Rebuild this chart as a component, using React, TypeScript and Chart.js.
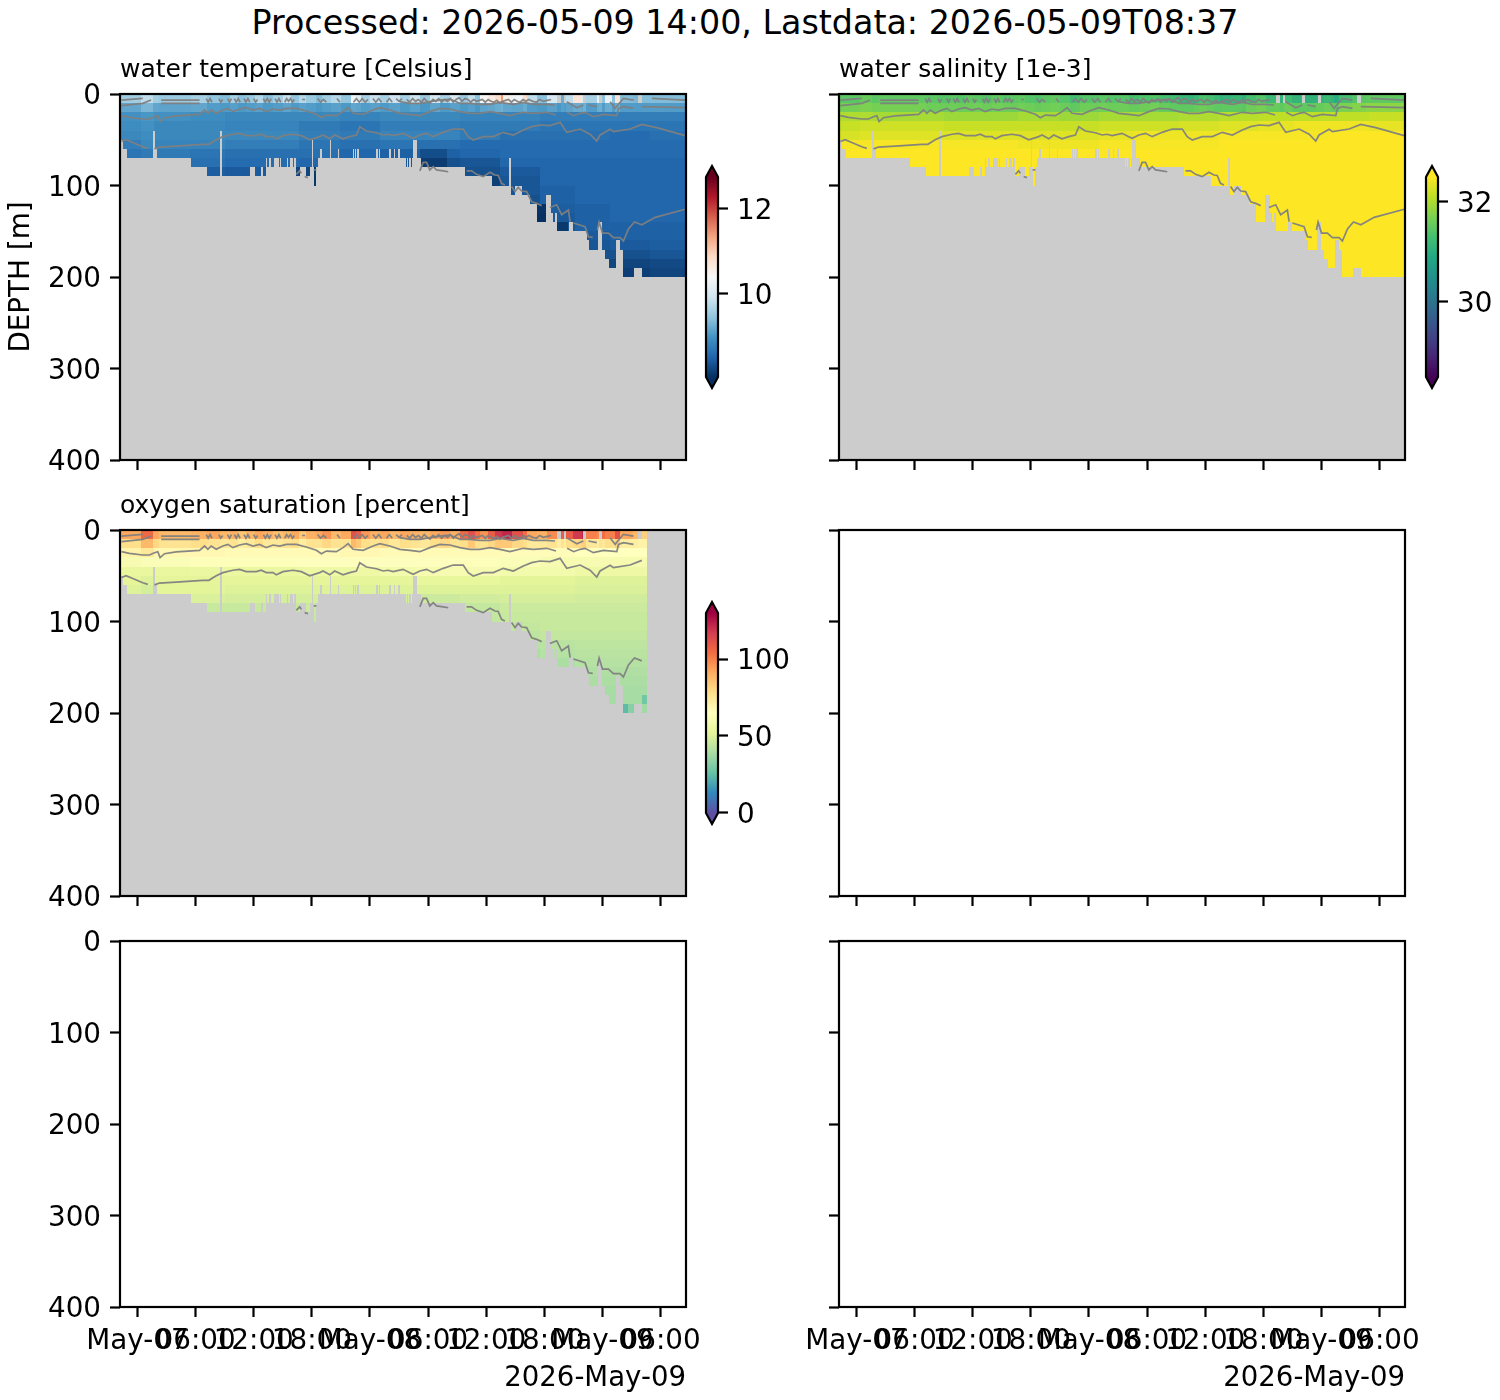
import { useEffect, useRef } from "react";
import { Chart, registerables } from "chart.js";

Chart.register(...registerables);
Chart.defaults.font.family = "DejaVu Sans";
Chart.defaults.color = "#000";

const SUPTITLE = "Processed: 2026-05-09 14:00, Lastdata: 2026-05-09T08:37";
const xTicks = [0, 6, 12, 18, 24, 30, 36, 42, 48, 54];
const xTickLabels = ["May-07", "06:00", "12:00", "18:00", "May-08", "06:00", "12:00", "18:00", "May-09", "06:00"];
const yTicks = [0, 100, 200, 300, 400];
const rowDepth = 10;

// seabed: hours since May-07 00:00 (left edges, one extra at the end) and depth reached
const bottomHours = [
  -1.65, -1.45, -1.03, 1.58, 1.86, 2.03, 5.48, 7.13, 8.48, 8.75, 11.58, 12.09, 12.78, 12.95, 13.23, 13.37, 13.57, 13.78,
  14.06, 14.57, 14.75, 14.81, 15.43, 15.5, 15.78, 16.05, 16.12, 16.4, 16.74, 17.36, 17.78, 17.98, 18.12, 18.19, 18.4,
  18.6, 18.81, 19.02, 19.91, 20.02, 20.26, 20.33, 20.47, 20.53, 20.67, 20.81, 22.02, 22.15, 22.29, 22.36, 22.5, 22.57,
  22.7, 22.84, 23.05, 23.12, 24.67, 24.81, 24.94, 25.01, 25.98, 26.18, 26.46, 26.63, 26.94, 27.08, 27.7, 27.8, 27.94,
  28.04, 28.22, 28.32, 28.42, 28.84, 29.25, 33.8, 36.59, 38.35, 38.55, 38.97, 39.69, 40.52, 41.24, 42.17, 42.69, 42.89,
  43.1, 43.31, 44.55, 45.0, 46.41, 46.62, 47.44, 47.96, 48.27, 48.68, 49.4, 49.82, 50.13, 51.27, 52.09, 56.62,
];
const bottomDepths = [
  50, 60, 70, 40, 60, 70, 80, 90, 40, 90, 80, 90, 80, 90, 70, 80, 70, 80,
  70, 80, 70, 80, 70, 80, 70, 80, 70, 90, 80, 90, 80, 50, 80, 100, 80,
  70, 60, 70, 50, 70, 60, 70, 60, 70, 60, 70, 60, 70, 60, 70, 60, 70,
  60, 70, 60, 70, 60, 70, 60, 70, 60, 70, 60, 70, 60, 70, 80, 70, 80,
  70, 80, 70, 50, 70, 80, 90, 100, 70, 110, 100, 110, 120, 140, 110, 130,
  140, 130, 150, 140, 150, 160, 170, 140, 170, 180, 190, 160, 170, 200, 190, 200,
];

// thin columns of the 0-10 m and 10-20 m rows
const stripeHours = [
  -1.65, 0.41, 1.58, 2.27, 5.48, 7.13, 8.48, 9.6, 10.4, 11.2, 12.1, 13, 14, 15, 15.8, 16.7, 17.4, 18.4, 19, 20, 21, 22,
  22.6, 23.05, 24, 25, 26, 27.08, 28.11, 29.15, 30.2, 31.2, 32.25, 33.3, 34.15, 34.85, 35.35, 36.2, 36.9, 37.5, 37.76,
  38.62, 39.83, 40.17, 41.2, 42.24, 43.27, 43.76, 44.06, 44.24, 45, 45.86, 46.02, 46.27, 47.41, 47.68, 47.92, 48.27,
  48.96, 49.3, 49.82, 51.2, 51.68, 52.06, 52.61, 56.62,
];
const stripeTemp = [
  9.55, 9.8, 9.55, 9.5, 9.6, 9.45, 9.35, 9.6, 9.4, 9.5, 9.7, 9.4, 9.6, 9.85, 9.45, 9.7, 9.5, 9.35, 9.55, 9.7, 9.45, 10.3,
  10.1, 9.6, 9.85, 9.6, 9.9, 9.6, 9.9, 9.5, 10.0, 9.6, 10.0, 9.5, 9.8, 9.4, 10.4, 10.6, 10.8, 11.4,
  10.5, 10.3, 10.8, 9.8, 9.4, 10.0, null, 9.2, null, 9.8, 10.7, 10.1, null, 9.6, 10.2, null, 9.4, 10.2,
  9.4, 10.7, 9.35, 9.3, null, 9.35, 9.35,
];
const stripeSal = [
  31.45, 31.55, 31.45, 31.5, 31.5, 31.45, 31.4, 31.45, 31.4, 31.5, 31.45, 31.4, 31.5, 31.4, 31.45, 31.5, 31.4, 31.35, 31.45, 31.5, 31.4, 31.25,
  31.3, 31.4, 31.4, 31.45, 31.4, 31.4, 31.3, 31.35, 31.4, 31.3, 31.25, 31.15, 31.1, 31.2, 31.35, 31.3, 31.2, 31.05,
  31.1, 31.15, 31.05, 31.3, 31.4, 31.2, null, 31.1, null, 31.25, 31.1, 31.15, null, 31.05, 31.1, null, 31.1, 31.2,
  31.1, 31.0, 31.3, 31.4, null, 31.45, 31.5,
];
const stripeOxy = [
  92, 105, 92, 88, 90, 92, 88, 90, 85, 88, 92, 90, 86, 88, 92, 84, 90, 92, 96, 88, 92, 112,
  108, 95, 90, 92, 88, 92, 90, 88, 92, 95, 90, 105, 112, 104, 96, 108, 118, 120,
  122, 112, 104, 92, 90, 98, null, 108, null, 108, 118, 122, null, 100, 98, null, 104, 100,
  100, 112, 92, 88, null, 82, null,
];
const secondTemp = [
  9.15, 9.3, 9.15, 9.12, 9.15, 9.05, 9.03, 9.08, 9.02, 9.05, 9.1, 9.02, 9.06, 9.12, 9.03, 9.1, 9.05, 9.0, 9.05, 9.1, 9.02, 9.15,
  9.12, 9.05, 9.1, 9.03, 9.1, 9.02, 9.1, 9.0, 9.12, 9.03, 9.1, 9.02, 9.08, 9.0, 9.12, 9.15, 9.2, 9.25,
  9.15, 9.12, 9.2, 9.05, 9.02, 9.1, 9.0, 9.1, 9.05, 9.12, 9.2, 9.15, 9.25, 9.05, 9.2, 9.22, 9.05, 9.2,
  9.05, 9.2, 9.05, 9.05, 9.05, 9.05, 9.05,
];
const secondSal = [
  31.65, 31.7, 31.65, 31.65, 31.65, 31.6, 31.58, 31.6, 31.58, 31.6, 31.62, 31.58, 31.62, 31.6, 31.58, 31.62, 31.6, 31.55, 31.6, 31.62, 31.58, 31.5,
  31.52, 31.6, 31.6, 31.62, 31.58, 31.6, 31.55, 31.6, 31.62, 31.55, 31.5, 31.5, 31.48, 31.55, 31.6, 31.55, 31.5, 31.45,
  31.48, 31.5, 31.45, 31.6, 31.65, 31.55, 31.55, 31.5, 31.55, 31.6, 31.5, 31.5, 31.5, 31.5, 31.55, 31.55, 31.55, 31.6,
  31.55, 31.5, 31.7, 31.75, 31.75, 31.75, 31.8,
];
const secondOxy = [
  78, 88, 80, 76, 78, 76, 74, 76, 72, 74, 78, 74, 74, 76, 78, 72, 76, 76, 80, 76, 76, 88,
  84, 78, 76, 78, 74, 78, 76, 74, 78, 80, 76, 78, 84, 78, 76, 80, 84, 84,
  84, 80, 78, 74, 74, 76, 72, 76, 72, 78, 80, 82, 82, 74, 72, 76, 74, 78,
  76, 82, 72, 72, 70, 70, 70,
];

// coarse readings below that, one list per 10 m row from 20-30 m downwards
const blockHours = [-1.65, 0.4, 1.75, 5.4, 9, 16.7, 20.9, 25, 28.6, 33.3, 37.4, 41.5, 45.2, 48.8, 52.9, 56.62];
const tempRows = [
  [8.95, 9.0, 8.95, 8.9, 8.85, 8.85, 8.8, 8.85, 8.85, 8.8, 8.8, 8.75, 8.75, 8.75, 8.75],
  [8.9, 8.95, 8.85, 8.85, 8.8, 8.7, 8.65, 8.75, 8.75, 8.7, 8.7, 8.65, 8.65, 8.65, 8.65],
  [8.85, 8.9, 8.85, 8.85, 8.85, 8.75, 8.7, 8.8, 8.8, 8.7, 8.6, 8.6, 8.6, 8.55, 8.6],
  [8.75, 8.85, 8.8, 8.8, 8.75, 8.65, 8.6, 8.65, 8.6, 8.55, 8.55, 8.55, 8.55, 8.55, 8.55],
  [8.65, 8.7, 8.7, 8.65, 8.6, 8.6, 8.5, 8.45, 8.45, 8.5, 8.55, 8.55, 8.55, 8.55, 8.55],
  [8.6, 8.6, 8.6, 8.6, 8.55, 8.5, 8.4, 8.35, 8.3, 8.35, 8.5, 8.5, 8.5, 8.5, 8.5],
  [8.5, 8.5, 8.5, 8.42, 8.4, 8.4, 8.4, 8.3, 8.2, 8.3, 8.4, 8.5, 8.5, 8.5, 8.5],
  [8.4, 8.4, 8.4, 8.3, 8.1, 8.3, 8.3, 8.3, 8.3, 8.15, 8.35, 8.5, 8.5, 8.5, 8.5],
  [8.4, 8.4, 8.4, 8.3, 8.1, 8.3, 8.3, 8.3, 8.3, 8.2, 8.35, 8.45, 8.5, 8.5, 8.5],
  [8.4, 8.4, 8.4, 8.3, 8.1, 8.3, 8.3, 8.3, 8.3, 8.2, 8.3, 8.45, 8.5, 8.5, 8.5],
  [8.4, 8.4, 8.4, 8.3, 8.1, 8.3, 8.3, 8.3, 8.3, 8.2, 8.3, 8.42, 8.45, 8.5, 8.5],
  [8.4, 8.4, 8.4, 8.3, 8.1, 8.3, 8.3, 8.3, 8.3, 8.2, 8.3, 8.38, 8.45, 8.5, 8.5],
  [8.4, 8.4, 8.4, 8.3, 8.1, 8.3, 8.3, 8.3, 8.3, 8.2, 8.1, 8.35, 8.45, 8.45, 8.45],
  [8.4, 8.4, 8.4, 8.3, 8.1, 8.3, 8.3, 8.3, 8.3, 8.2, 8.1, 8.35, 8.4, 8.45, 8.45],
  [8.4, 8.4, 8.4, 8.3, 8.1, 8.3, 8.3, 8.3, 8.3, 8.2, 8.1, 8.1, 8.35, 8.4, 8.42],
  [8.4, 8.4, 8.4, 8.3, 8.1, 8.3, 8.3, 8.3, 8.3, 8.2, 8.1, 8.1, 8.3, 8.3, 8.35],
  [8.4, 8.4, 8.4, 8.3, 8.1, 8.3, 8.3, 8.3, 8.3, 8.2, 8.1, 8.1, 8.2, 8.2, 8.25],
  [8.4, 8.4, 8.4, 8.3, 8.1, 8.3, 8.3, 8.3, 8.3, 8.2, 8.1, 8.1, 8.2, 8.15, 8.2],
];
const tempPatchRows = [6, 7, 12, 13, 14, 8, 8, 8, 9];
const tempPatchStart = [29.15, 29.25, 41.24, 41.24, 43.31, 16.4, 17.36, 18.19, 18.19];
const tempPatchEnd = [32, 32, 42.17, 42.17, 44.4, 16.74, 17.78, 18.4, 18.4];
const tempPatchValues = [8.28, 8.12, 8.05, 8.02, 8.1, 8.2, 8.2, 8.1, 8.08];

const salRows = [
  [32.0, 32.0, 31.95, 31.95, 31.9, 31.95, 31.9, 31.95, 31.95, 32.0, 32.05, 32.1, 32.1, 32.1, 32.15],
  [32.15, 32.2, 32.2, 32.2, 32.15, 32.15, 32.15, 32.2, 32.2, 32.25, 32.3, 32.35, 32.4, 32.4, 32.35],
  [32.25, 32.3, 32.3, 32.3, 32.3, 32.3, 32.3, 32.35, 32.4, 32.4, 32.45, 32.45, 32.45, 32.5, 32.5],
  [32.45, 32.45, 32.45, 32.45, 32.45, 32.4, 32.4, 32.45, 32.45, 32.45, 32.5, 32.5, 32.5, 32.5, 32.5],
];
const salDeep = 32.5;
const oxyRows = [
  [70, 74, 68, 68, 67, 67, 68, 67, 67, 67, 66, 66, 65, 65, 65],
  [60, 62, 62, 63, 63, 64, 64, 64, 64, 63, 62, 60, 60, 60, 60],
  [54, 54, 54, 55, 55, 56, 56, 58, 60, 60, 58, 58, 56, 56, 56],
  [52, 50, 52, 52, 52, 52, 52, 52, 53, 53, 51, 51, 50, 50, 50],
  [50, 48, 51, 51, 50, 50, 50, 50, 50, 50, 50, 50, 49, 49, 49],
  [48, 48, 49, 49, 48, 48, 48, 48, 46, 47, 48, 48, 47, 47, 47],
  [46, 46, 46, 45, 45, 46, 46, 45, 44, 44, 46, 46, 46, 46, 46],
  [45, 45, 45, 44, 43, 45, 45, 44, 44, 44, 45, 45, 45, 45, 45],
  [45, 45, 45, 44, 43, 45, 45, 44, 44, 44, 44, 45, 45, 45, 45],
  [45, 45, 45, 44, 43, 45, 45, 44, 44, 44, 43, 44, 44, 44, 44],
  [45, 45, 45, 44, 43, 45, 45, 44, 44, 44, 41, 42, 43, 43, 43],
  [45, 45, 45, 44, 43, 45, 45, 44, 44, 44, 39, 41, 42, 42, 42],
  [45, 45, 45, 44, 43, 45, 45, 44, 44, 44, 39, 39, 41, 41, 41],
  [45, 45, 45, 44, 43, 45, 45, 44, 44, 44, 39, 39, 40, 40, 40],
  [45, 45, 45, 44, 43, 45, 45, 44, 44, 44, 39, 39, 39, 39, 39],
  [45, 45, 45, 44, 43, 45, 45, 44, 44, 44, 39, 39, 38, 38, 38],
  [45, 45, 45, 44, 43, 45, 45, 44, 44, 44, 39, 39, 38, 38, 38],
  [45, 45, 45, 44, 43, 45, 45, 44, 44, 44, 39, 39, 38, 38, 37],
];
const oxyEndHour = 52.61;
const oxyPatchRows = [19, 19, 19, 18];
const oxyPatchStart = [50.13, 50.65, 52.09, 52.09];
const oxyPatchEnd = [50.65, 51.27, 52.61, 52.61];
const oxyPatchValues = [24, 32, 37, 28];

// grey contour lines, null breaks a line
const contourAHours = [
  -1.65, -1.17, -0.48, 0.55, 1.07, 1.4, 1.76, 2.27, 4, 6.75, 7.37, 8.13, 8.82, 9.85, 10.54, 11.23, 12.27, 12.78, 13.3, 14,
  14.33, 15.02, 16.05, 16.92, 17.78, 18.81, 19.16, 19.85, 20.36, 21.22, 21.91, 22.6, 22.95, 23.63, 24.67, 25.36, 25.87,
  26.39, 27.42, 28.11, 28.46, 29.15, 29.84, 30.53, 31.56, 32.6, 33.63, 34.14, 34.66, 35.69, 36.73, 37.76, 38.8, 39.83,
  40.69, 41.55, 42.58, 43.62, 44.31, 45.69, 46.72, 47.41, 47.75, 48.79, 49.13, 50.85, 52.06, 53.6, 56.54,
];
const contourADepths = [
  52, 50, 53, 57.6, 59.4, null, 60, 58, 57, 55, 55, 50, 46.6, 44, 43, 45.5, 45.5, 44, 46.6, 46.6,
  49, 45.5, 44, 45.5, 50, 46.6, 44.8, 49, 44.8, 49, 46.6, 44.8, 35.7, 40.4, 42.3, 44.8, 44,
  45.5, 43, 46.6, 48.5, 44.8, 43, 46.6, 41.9, 38.3, 38.3, 46.6, 50.3, 46.6, 46.6, 41.9, 44.8, 39.3,
  35.7, 33.9, 34.6, 31, 41.9, 38.3, 44, 51.4, 44.8, 38.6, 41.2, 38.3, 33.2, 36.8, 45.5,
];
const contourBHours = [
  -1.65, -0.83, 0.55, 1.24, 1.76, 2.1, 2.34, 2.79, 4, 6.41, 6.93, 7.27, 7.61, 8.13, 8.82, 9.34, 9.85, 10.54, 11.23, 11.92,
  12.61, 13.3, 14, 14.68, 15.37, 16.4, 17.43, 18.47, 18.98, 19.5, 20.53, 21.22, 21.74, 22.26, 23.29, 24.32, 25.01, 26.05,
  27.08, 28.11, 29.15, 30.18, 31.22, 32.25, 33.28, 34.32, 35.35, 36.39, 37.42, 38.45, 39.83, 40.86, 42.24, 43.2, 43.5,
  44.35, 45.03, 45.69, 46.2, 47.06, 48.1, 49.48, 49.65, 50.16, 51.2, 51.6, 52.06, 56.54,
];
const contourBDepths = [
  23.7, 25.5, 27.3, 27.3, 24.8, 23.7, 30.2, 25.9, 24, 22.2, 17.5, 21.1, 17.5, 21.1, 17.5, 15.7, 19.3, 16.4, 14.9, 17.5,
  15.7, 19.3, 16.4, 17.5, 15.7, 15.7, 18.6, 22.2, 25.9, 23, 23.7, 19.3, 14.9, 21.1, 22.2, 17.5, 14.9, 17.5,
  21.1, 22.2, 23.7, 19.3, 15.7, 16.4, 19.3, 21.1, 21.1, 19.3, 21.1, 23.7, 20, 21.1, 20, 23, null,
  20, 23.7, 21.1, 20, 24.8, 22.2, 23.7, 15.7, 13.8, 15.7, null, 13.8, 14.9,
];
const contourCHours = [
  -1.65, 0.55, 1.41, 2, 2.45, 6.41, 7, 27.08, 28.11, 29.15, 30.18, 31.22, 32.25, 33.28, 34.32, 35.35, 36.39, 37.42, 38.8,
  39.83, 40.86, 42.24, 43.1, 43.7, 44.31, 45.35, 46.02, 46.3, 46.55, 47.41, 47.9, 48.79, 49.3, 50.16, 51.2, 52, 53.1, 56.54,
];
const contourCDepths = [
  12.8, 10.2, 6.6, null, 10.2, 10.2, null, 8.4, 10.2, 10.2, 8.4, 6.6, 5.5, 10.2, 10.2, 11.3, 11.3, 9.1, 11.3,
  9.1, 11.3, 11.3, 12, null, 8.4, 15, 12, null, 12, 13.8, null, 8.4, 15.7, 4.7, 6.6, null, 4.7, 6.6,
];
const contourDHours = [
  -1.65, 0.55, 1, 2.45, 6.41, 7, 7.1, 7.3, 7.5, 7.7, 8, 8.4, 8.6, 8.8, 9, 9.3, 9.5, 9.7, 9.85, 10, 10.2, 10.4, 10.6, 10.8, 11, 11.2, 11.4,
  11.6, 11.8, 12, 12.2, 12.4, 12.7, 13, 13.2, 13.4, 13.6, 13.8, 14, 14.2, 14.4, 14.6, 14.8, 15, 15.2, 15.4, 15.6, 15.8, 16, 16.2, 16.6,
  17, 17.3, 18, 18.6, 18.9, 19.2, 19.5, 20, 20.6, 20.9, 21.5, 22.3, 22.6, 22.9, 23.2, 23.5, 23.8, 24, 24.3, 24.6, 24.9, 25.2, 25.45, 25.7,
  26, 26.3, 26.5, 26.7, 27, 27.3, 27.5, 27.8, 28.1, 28.4, 28.7, 29, 29.3, 29.6, 29.9, 30.2, 30.5, 30.8, 31.1, 31.4, 31.7, 32, 32.3, 32.6,
  32.9, 33.2, 33.5, 33.8, 34.1, 34.4, 34.7, 35, 35.3, 35.6, 35.9, 36.2, 36.5, 36.8, 37.1, 37.4, 37.7, 38, 38.3, 38.6, 38.9, 39.2, 39.5, 39.8,
  40.1, 40.4, 40.8, 41.2, 41.5, 41.9, 42.3, 42.7,
];
const contourDDepths = [
  6.6, 4.7, null, 6.6, 6.6, null, 5, 9, 5, 9, null, 5, 9, 6, null, 5, 9, 5, null, 5, 9, 5, 9, null, 5, 9, 5,
  9, null, 5, 9, 6, null, 5, 9, 5, 9, 5, null, 5, 9, 5, 9, null, 9, 5, 8, 5, 9, 6, null,
  6, 6, null, 5, 9, 6, 9, null, 5, 9, null, 9, 5, 9, 5, 9, 6, null, 5, 9, 5, 9, null, 9,
  5, 9, null, 5, 8, 5, null, 6, 9, 5, 8, 6, 9, 5, 8, 10, 6, 8, 5, 9, 6, 8, 5, 9, 6, 4,
  8, 5, 6, 9, 6, 8, 7, 6, 9, 6, 8, 9, 7, 10, 8, 7, 6, 9, 6, 8, 9, 6, 8, 6,
  8, 9, 6, 8, 7, 6, 8, 7,
];
const contourEHours = [
  16.4, 16.74, 16.92, 17, 17.26, 17.6, 17.9, 18.19, 18.47, 18.8, 29.15, 29.49, 29.84, 30.18, 30.53, 30.87, 31.56, 32.08, 32.5, 33.97,
  34.49, 35, 35.69, 36.39, 36.9, 37.24, 37.58, 37.93, 38.2, 38.62, 38.97, 39.31, 39.66, 40.17, 40.69, 41.2, 41.72, 42, 42.58, 43.27,
  43.79, 44.48, 44.66, 44.8, 45, 46.2, 46.55, 46.99, 47.2, 47.48, 47.65, 48, 48.61, 49.13, 49.82, 50.16, 50.68, 51.3, 52.06, 53.44, 56.54,
];
const contourEDepths = [
  87.8, 84, 86.7, null, 90.3, 91.4, null, 83, 83, null, 84, 74.7, 74.7, 83, 79.4, 83, 84, 85, null, 84,
  84, 87.8, 90.3, 85.6, 88.5, 89, 97.6, 99.5, null, 101, 106.7, 102, 106, 106.7, 117.7, 119.5, 122, null, 124, 121,
  132, 126.8, 139.5, null, 141, 145, 156, 156.6, null, 148.6, 140, 152, 152, 157, 157, 160.7, 147.5, 139.9, 143, 134.8, 126,
];
const contourHourLists = [contourAHours, contourBHours, contourCHours, contourDHours, contourEHours];
const contourDepthLists = [contourADepths, contourBDepths, contourCDepths, contourDDepths, contourEDepths];

const rdbuStops = ["#053061", "#2166ac", "#4393c3", "#92c5de", "#d1e5f0", "#f7f7f7", "#fddbc7", "#f4a582", "#d6604d", "#b2182b", "#67001f"];
const viridisStops = ["#440154", "#482475", "#414487", "#355f8d", "#2a788e", "#21918c", "#22a884", "#44bf70", "#7ad151", "#bddf26", "#fde725"];
const spectralStops = ["#5e4fa2", "#3288bd", "#66c2a5", "#abdda4", "#e6f598", "#ffffbf", "#fee08b", "#fdae61", "#f46d43", "#d53e4f", "#9e0142"];

const hexRgb = (h: string) => [1, 3, 5].map((i) => parseInt(h.slice(i, i + 2), 16));

function colorFor(stops: string[], min: number, max: number, v: number) {
  const t = Math.min(Math.max((v - min) / (max - min), 0), 1) * (stops.length - 1);
  const i = Math.min(Math.floor(t), stops.length - 2);
  const a = hexRgb(stops[i]);
  const b = hexRgb(stops[i + 1]);
  const c = a.map((p, k) => Math.round(p + (b[k] - p) * (t - i)));
  return `rgb(${c[0]},${c[1]},${c[2]})`;
}

function lookup(edges: number[], h: number) {
  for (let i = 0; i < edges.length - 1; i++) {
    if (h >= edges[i] && h < edges[i + 1]) return i;
  }
  return -1;
}

interface Field {
  stops: string[];
  min: number;
  max: number;
  stripes: (number | null)[];
  second: number[];
  rows: number[][];
  deep?: number;
  endHour?: number;
  patchRows?: number[];
  patchStart?: number[];
  patchEnd?: number[];
  patchValues?: number[];
}

const tempField: Field = {
  stops: rdbuStops, min: 8.02, max: 12.75, stripes: stripeTemp, second: secondTemp, rows: tempRows,
  patchRows: tempPatchRows, patchStart: tempPatchStart, patchEnd: tempPatchEnd, patchValues: tempPatchValues,
};
const salField: Field = { stops: viridisStops, min: 28.49, max: 32.49, stripes: stripeSal, second: secondSal, rows: salRows, deep: salDeep };
const oxyField: Field = {
  stops: spectralStops, min: -0.4, max: 130, stripes: stripeOxy, second: secondOxy, rows: oxyRows, endHour: oxyEndHour,
  patchRows: oxyPatchRows, patchStart: oxyPatchStart, patchEnd: oxyPatchEnd, patchValues: oxyPatchValues,
};

const columnEdges = Array.from(
  new Set([...bottomHours, ...stripeHours, ...blockHours, ...oxyPatchStart, ...oxyPatchEnd, ...tempPatchStart, ...tempPatchEnd])
).sort((a, b) => a - b);

function cellValue(field: Field, r: number, mid: number, block: number) {
  if (r === 0) return field.stripes[lookup(stripeHours, mid)];
  if (r === 1) return field.second[lookup(stripeHours, mid)];
  if (field.patchRows) {
    for (let p = 0; p < field.patchRows.length; p++) {
      if (field.patchRows[p] === r && mid >= field.patchStart![p] && mid < field.patchEnd![p]) return field.patchValues![p];
    }
  }
  return field.rows[r - 2] ? field.rows[r - 2][block] : field.deep;
}

function heatPlugin(field?: Field) {
  return {
    id: "heat",
    beforeDatasetsDraw(chart: any) {
      if (!field) return;
      const { ctx, chartArea, scales } = chart;
      ctx.save();
      ctx.fillStyle = "#cccccc";
      ctx.fillRect(chartArea.left, chartArea.top, chartArea.width, chartArea.height);
      for (let c = 0; c < columnEdges.length - 1; c++) {
        const mid = (columnEdges[c] + columnEdges[c + 1]) / 2;
        if (field.endHour !== undefined && mid > field.endHour) continue;
        const depth = bottomDepths[lookup(bottomHours, mid)];
        const block = lookup(blockHours, mid);
        const x0 = Math.round(scales.x.getPixelForValue(columnEdges[c]));
        const x1 = Math.round(scales.x.getPixelForValue(columnEdges[c + 1]));
        for (let r = 0; (r + 1) * rowDepth <= depth; r++) {
          const v = cellValue(field, r, mid, block);
          if (v === null || v === undefined) continue;
          const y0 = Math.round(scales.y.getPixelForValue(r * rowDepth));
          const y1 = Math.round(scales.y.getPixelForValue((r + 1) * rowDepth));
          ctx.fillStyle = colorFor(field.stops, field.min, field.max, v);
          ctx.fillRect(x0, y0, Math.max(x1 - x0, 1), y1 - y0);
        }
      }
      ctx.restore();
    },
    afterDraw(chart: any) {
      const { ctx, chartArea } = chart;
      ctx.save();
      ctx.strokeStyle = "#000";
      ctx.lineWidth = 2.2;
      ctx.strokeRect(chartArea.left, chartArea.top, chartArea.width, chartArea.height);
      ctx.restore();
    },
  };
}

interface PanelProps {
  left: number;
  areaLeft: number;
  areaRight: number;
  areaTop: number;
  field?: Field;
  title?: string;
  yLabels: boolean;
  yTitle?: string;
  xLabels: boolean;
}

const AREA_H = 366;
const TITLE_BOX = 38;

function Panel({ left, areaLeft, areaRight, areaTop, field, title, yLabels, yTitle, xLabels }: PanelProps) {
  const ref = useRef<HTMLCanvasElement>(null);
  const width = areaRight - left + 34;
  const xBox = xLabels ? 88 : 12;
  const height = TITLE_BOX + AREA_H + xBox;

  useEffect(() => {
    const datasets = field
      ? contourHourLists.map((hours, k) => ({
          data: hours
            .map((h, i) => ({ x: h, y: contourDepthLists[k][i] }))
            .filter((p) => field.endHour === undefined || p.x <= field.endHour),
          borderColor: "rgba(128,128,128,0.95)",
          borderWidth: 1.7,
          pointRadius: 0,
          tension: 0,
          spanGaps: false,
        }))
      : [];

    const chart = new Chart(ref.current!, {
      type: "line",
      data: { datasets: datasets as any },
      plugins: [heatPlugin(field) as any],
      options: {
        animation: false,
        responsive: false,
        layout: { padding: { left: 0, right: width - (areaRight - left), top: title ? 0 : TITLE_BOX, bottom: 0 } },
        plugins: {
          legend: { display: false },
          tooltip: { enabled: false },
          title: {
            display: !!title,
            text: title,
            align: "start",
            fullSize: false,
            color: "#000",
            font: { size: 25, weight: "normal", lineHeight: 1 },
            padding: { top: 2, bottom: 11 },
          },
        },
        scales: {
          x: {
            type: "linear",
            min: -1.8,
            max: 56.62,
            afterBuildTicks: (s: any) => {
              s.ticks = xTicks.map((value) => ({ value }));
            },
            afterFit: (s: any) => {
              s.height = xBox;
              s.paddingLeft = 0;
              s.paddingRight = 0;
            },
            border: { display: false },
            grid: { drawOnChartArea: false, tickLength: 10, tickWidth: 2.2, tickColor: "#000" },
            ticks: {
              display: xLabels,
              autoSkip: false,
              maxRotation: 0,
              minRotation: 0,
              padding: 8,
              color: "#000",
              font: { size: 27.8 },
              callback: (v: any) => xTickLabels[xTicks.indexOf(Number(v))],
            },
            title: {
              display: xLabels,
              text: "2026-May-09",
              align: "end",
              color: "#000",
              font: { size: 27.6 },
              padding: { top: 0, bottom: 0 },
            },
          },
          y: {
            type: "linear",
            min: 0,
            max: 400,
            reverse: true,
            afterBuildTicks: (s: any) => {
              s.ticks = yTicks.map((value) => ({ value }));
            },
            afterFit: (s: any) => {
              s.width = areaLeft - left;
              s.paddingTop = 0;
              s.paddingBottom = 0;
            },
            border: { display: false },
            grid: { drawOnChartArea: false, tickLength: 10, tickWidth: 2.2, tickColor: "#000" },
            ticks: { display: yLabels, padding: 9, labelOffset: 3, color: "#000", font: { size: 27.8 } },
            title: {
              display: !!yTitle,
              text: yTitle,
              color: "#000",
              font: { size: 27.8 },
              padding: { top: 5, bottom: 0 },
            },
          },
        },
      } as any,
    });

    return () => {
      chart.destroy();
    };
  }, []);

  return (
    <canvas
      ref={ref}
      width={width}
      height={height}
      style={{ position: "absolute", left, top: areaTop - TITLE_BOX, width, height, display: "block" }}
    />
  );
}

interface BarProps {
  barLeft: number;
  barTop: number;
  stops: string[];
  min: number;
  max: number;
  ticks: number[];
  labelWidth: number;
}

const BAR_W = 12;
const BAR_H = 200;
const TIP = 11;

function ColorBar({ barLeft, barTop, stops, min, max, ticks, labelWidth }: BarProps) {
  const ref = useRef<HTMLCanvasElement>(null);
  const width = 6 + BAR_W + labelWidth;
  const height = BAR_H + 2 * (TIP + 4);

  useEffect(() => {
    const plugin = {
      id: "bar",
      afterDraw(chart: any) {
        const { ctx, chartArea: a, scales } = chart;
        const cx = (a.left + a.right) / 2;
        const yLow = scales.y.getPixelForValue(min);
        const yHigh = scales.y.getPixelForValue(max);
        const grad = ctx.createLinearGradient(0, yLow, 0, yHigh);
        stops.forEach((c, i) => grad.addColorStop(i / (stops.length - 1), c));
        ctx.save();
        ctx.beginPath();
        ctx.moveTo(a.left, yHigh);
        ctx.lineTo(cx, yHigh - TIP);
        ctx.lineTo(a.right, yHigh);
        ctx.lineTo(a.right, yLow);
        ctx.lineTo(cx, yLow + TIP);
        ctx.lineTo(a.left, yLow);
        ctx.closePath();
        ctx.fillStyle = grad;
        ctx.fill();
        ctx.strokeStyle = "#000";
        ctx.lineWidth = 2.2;
        ctx.stroke();
        ctx.restore();
      },
    };
    const chart = new Chart(ref.current!, {
      type: "scatter",
      data: { datasets: [] },
      plugins: [plugin as any],
      options: {
        animation: false,
        responsive: false,
        layout: { padding: { left: 6, top: TIP + 4, bottom: TIP + 4, right: 0 } },
        plugins: { legend: { display: false }, tooltip: { enabled: false } },
        scales: {
          x: { type: "linear", display: false, min: 0, max: 1 },
          y: {
            type: "linear",
            position: "right",
            min,
            max,
            afterBuildTicks: (s: any) => {
              s.ticks = ticks.map((value) => ({ value }));
            },
            afterFit: (s: any) => {
              s.width = labelWidth;
              s.paddingTop = 0;
              s.paddingBottom = 0;
            },
            border: { display: false },
            grid: { drawOnChartArea: false, tickLength: 10, tickWidth: 2.2, tickColor: "#000" },
            ticks: { padding: 9, labelOffset: 3, color: "#000", font: { size: 27.8 } },
          },
        },
      } as any,
    });
    return () => {
      chart.destroy();
    };
  }, []);

  return (
    <canvas
      ref={ref}
      width={width}
      height={height}
      style={{ position: "absolute", left: barLeft - 6, top: barTop - TIP - 4, width, height, display: "block" }}
    />
  );
}

export default function App() {
  return (
    <div style={{ position: "absolute", left: 0, top: 0, width: 1500, height: 1400, background: "#fff", overflow: "hidden" }}>
      <div
        style={{
          position: "absolute", left: 0, width: 1490, top: 3, textAlign: "center",
          font: '33.3px "DejaVu Sans"', lineHeight: "40px", color: "#000",
        }}
      >
        {SUPTITLE}
      </div>
      <Panel left={0} areaLeft={120} areaRight={686} areaTop={94} field={tempField} title="water temperature [Celsius]" yLabels yTitle="DEPTH [m]" xLabels={false} />
      <Panel left={720} areaLeft={839} areaRight={1405} areaTop={94} field={salField} title="water salinity [1e-3]" yLabels={false} xLabels={false} />
      <Panel left={0} areaLeft={120} areaRight={686} areaTop={530} field={oxyField} title="oxygen saturation [percent]" yLabels xLabels={false} />
      <Panel left={720} areaLeft={839} areaRight={1405} areaTop={530} yLabels={false} xLabels={false} />
      <Panel left={0} areaLeft={120} areaRight={686} areaTop={941} yLabels xLabels />
      <Panel left={720} areaLeft={839} areaRight={1405} areaTop={941} yLabels={false} xLabels />
      <ColorBar barLeft={706} barTop={177} stops={rdbuStops} min={8.02} max={12.75} ticks={[10, 12]} labelWidth={76} />
      <ColorBar barLeft={1426} barTop={177} stops={viridisStops} min={28.49} max={32.49} ticks={[30, 32]} labelWidth={62} />
      <ColorBar barLeft={706} barTop={613} stops={spectralStops} min={-0.4} max={130} ticks={[0, 50, 100]} labelWidth={90} />
    </div>
  );
}
